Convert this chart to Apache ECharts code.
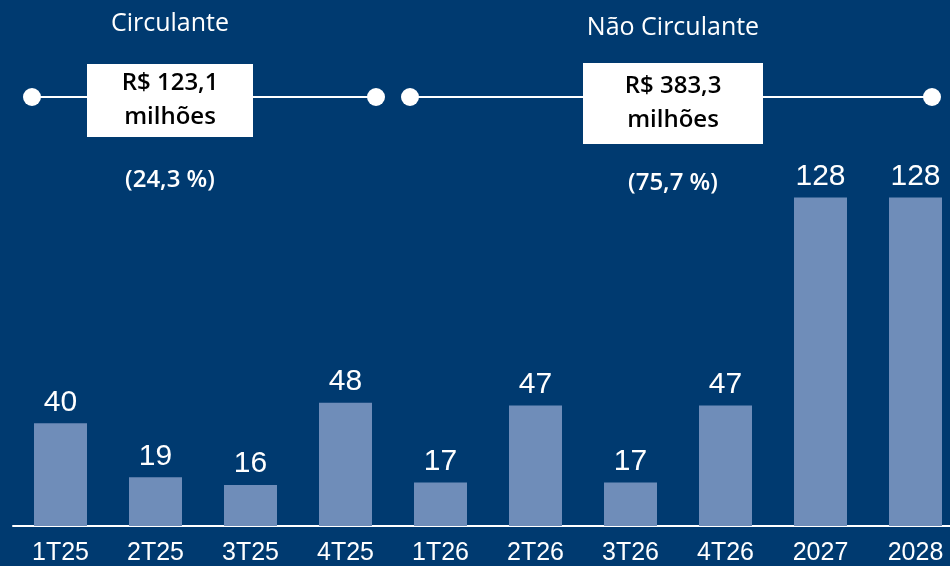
<!DOCTYPE html>
<html>
<head>
<meta charset="utf-8">
<script src="https://cdn.jsdelivr.net/npm/echarts@6/dist/echarts.min.js"></script>
<style>
  html, body { margin: 0; padding: 0; background: #003a70; overflow: hidden; }
  /* 比窗口宽一点，最后一根柱子的间距才对 */
  #chart { width: 963px; height: 566px; }
</style>
</head>
<body>
<div id="chart"></div>
<script>
// 数据
const categories = ['1T25', '2T25', '3T25', '4T25', '1T26', '2T26', '3T26', '4T26', '2027', '2028']
const values = [40, 19, 16, 48, 17, 47, 17, 47, 128, 128]

// 顶部说明 (Circulante / Não Circulante)
const groupNames = ['Circulante', 'Não Circulante']
const groupTotals = ['R$ 123,1\nmilhões', 'R$ 383,3\nmilhões']
const groupShares = ['(24,3 %)', '(75,7 %)']

const chart = echarts.init(document.getElementById('chart'))

// 分组的线、圆点、白框
function groupGraphic(x1, x2, boxX, boxY, boxW, boxH, cx, name, total, share, nameY, shareY) {
    return [
        { type: 'line', shape: { x1: x1, y1: 97, x2: x2, y2: 97 }, style: { stroke: '#fff', lineWidth: 2 } },
        { type: 'circle', shape: { cx: x1, cy: 97, r: 9 }, style: { fill: '#fff' } },
        { type: 'circle', shape: { cx: x2, cy: 97, r: 9 }, style: { fill: '#fff' } },
        { type: 'rect', shape: { x: boxX, y: boxY, width: boxW, height: boxH }, style: { fill: '#fff' } },
        {
            type: 'text', x: cx, y: boxY + boxH / 2,
            style: {
                text: total, fill: '#000', font: '600 24px "Open Sans"', lineHeight: 34,
                align: 'center', verticalAlign: 'middle'
            }
        },
        {
            type: 'text', x: cx, y: nameY,
            style: { text: name, fill: '#fff', font: '25px "Open Sans"', align: 'center', verticalAlign: 'middle' }
        },
        {
            type: 'text', x: cx, y: shareY,
            style: { text: share, fill: '#fff', font: '600 24px "Open Sans"', align: 'center', verticalAlign: 'middle' }
        }
    ]
}

const option = {
    backgroundColor: '#003a70',
    animation: false,
    grid: { left: 13, top: 0, right: 0, bottom: 37, containLabel: false },
    xAxis: {
        type: 'category',
        data: categories,
        axisLine: { lineStyle: { color: '#fff', width: 2 } },
        axisTick: { show: false },
        axisLabel: {
            color: '#fff', fontSize: 25, fontFamily: '"Liberation Sans", Arial', margin: 15, interval: 0
        }
    },
    yAxis: {
        type: 'value', min: 0, max: 205, show: false
    },
    series: [{
        type: 'bar',
        data: values,
        barWidth: 53,
        itemStyle: { color: '#6f8db9' },
        label: {
            show: true, position: 'top', distance: 6,
            color: '#fff', fontSize: 30, fontFamily: '"Liberation Sans", Arial'
        }
    }],
    graphic: [].concat(
        groupGraphic(32, 376, 87, 64, 166, 73, 170, groupNames[0], groupTotals[0], groupShares[0], 24, 180),
        groupGraphic(410, 932, 583, 63, 180, 81, 673, groupNames[1], groupTotals[1], groupShares[1], 28, 183)
    )
}

chart.setOption(option)
</script>
</body>
</html>
